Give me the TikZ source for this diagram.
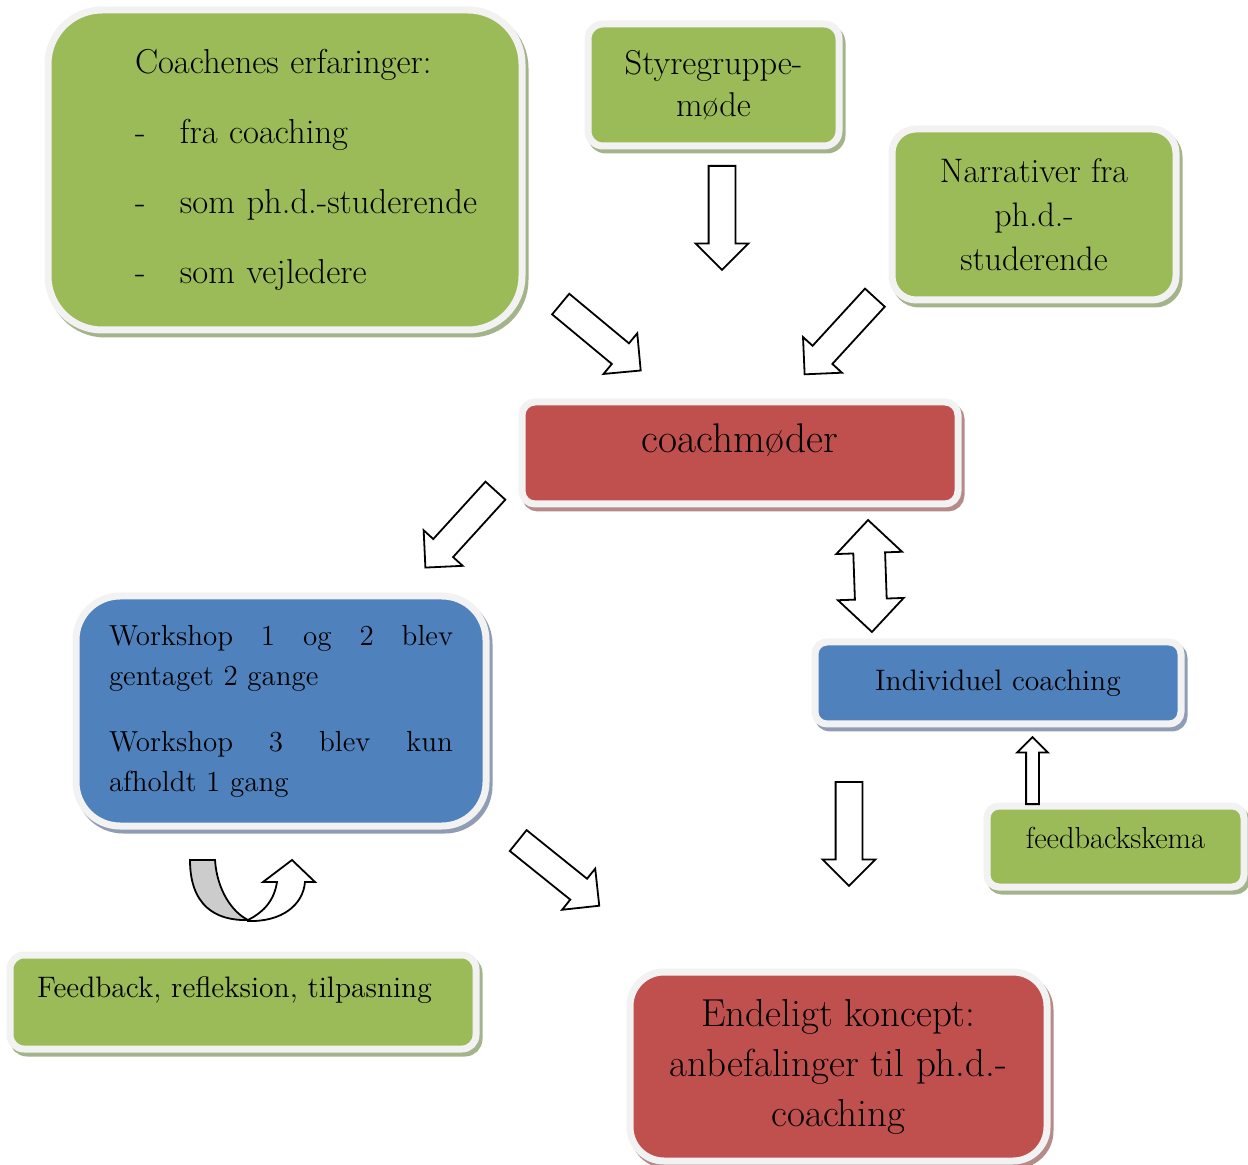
\documentclass[tikz,border=0pt]{standalone}
\usepackage{tikz}
\usetikzlibrary{shapes,arrows,positioning}

\definecolor{groen}{HTML}{9BBB59}
\definecolor{roed}{HTML}{C0504D}
\definecolor{blaa}{HTML}{4F81BD}
\definecolor{kant}{HTML}{F2F2F2}
\definecolor{groenskygge}{HTML}{A3B38A}
\definecolor{roedskygge}{HTML}{B58A89}
\definecolor{blaaskygge}{HTML}{8E9DB3}
\definecolor{graa}{HTML}{CCCCCC}

\tikzset{
  boks/.style={draw=kant, line width=3.5pt, inner sep=0pt, align=center},
  skygge/.style={preaction={draw=#1, fill=#1, line width=3.5pt, transform canvas={shift={(1.5pt,-2pt)}}}},
  groenboks/.style={boks, fill=groen, skygge=groenskygge},
  roedboks/.style={boks, fill=roed, skygge=roedskygge},
  blaaboks/.style={boks, fill=blaa, skygge=blaaskygge},
  pil/.style={single arrow, draw, fill=white, line width=0.9pt, inner xsep=0pt, inner ysep=6.25pt,
    single arrow head extend=6.5pt, minimum height=52pt, anchor=tail},
}

\begin{document}
\begin{tikzpicture}[x=0.5pt, y=-0.5pt]
  \useasboundingbox (0,0) rectangle (1248,1165);

  % kasser
  \node (erfaringer) [groenboks, rounded corners=27pt, minimum width=237pt, minimum height=160pt,
    text width=193pt, align=left, font=\fontsize{17.3}{35}\selectfont] at (285,170)
    {\hspace*{21.5pt}Coachenes erfaringer:\\
     \hspace*{21.5pt}\makebox[22.5pt][l]{-}fra coaching\\
     \hspace*{21.5pt}\makebox[22.5pt][l]{-}som ph.d.-studerende\\
     \hspace*{21.5pt}\makebox[22.5pt][l]{-}som vejledere};
  \node (styregruppe) [groenboks, rounded corners=7.5pt, minimum width=125.5pt, minimum height=61pt,
    font=\fontsize{17.2}{21}\selectfont] at (713.5,85) {Styregruppe-\\møde};
  \node (narrativer) [groenboks, rounded corners=12pt, minimum width=142pt, minimum height=85.5pt,
    font=\fontsize{17}{22}\selectfont] at (1034,214.5) {Narrativer fra\\ph.d.-\\studerende};
  \node (coachmoeder) [roedboks, rounded corners=6.5pt, minimum width=218pt, minimum height=51pt,
    text height=8pt, text depth=8pt, font=\fontsize{20.7}{23}\selectfont] at (740,453) {coachmøder};
  \node (workshop) [blaaboks, rounded corners=22pt, minimum width=205pt, minimum height=115pt,
    text width=172pt, align=left, font=\fontsize{14.5}{20}\selectfont] at (281,711)
    {\makebox[172pt][l]{Workshop\hfill 1\hfill og\hfill 2\hfill blev}\\gentaget 2 gange\\[13pt]
     \makebox[172pt][l]{Workshop\hfill 3\hfill blev\hfill kun}\\afholdt 1 gang};
  \node (individuel) [blaaboks, rounded corners=6pt, minimum width=183pt, minimum height=41pt,
    font=\fontsize{14.8}{17}\selectfont] at (998,683) {Individuel coaching};
  \node (skema) [groenboks, rounded corners=6pt, minimum width=128.5pt, minimum height=40.5pt,
    text height=8pt, text depth=6.5pt, font=\fontsize{15.2}{18}\selectfont] at (1115.5,846.5) {feedbackskema};
  \node (feedback) [groenboks, rounded corners=7pt, minimum width=233pt, minimum height=47pt,
    text width=206pt, align=left, text height=6pt, text depth=10.2pt,
    font=\fontsize{14.8}{17}\selectfont] at (243,1002) {Feedback, refleksion, tilpasning};
  \node (koncept) [roedboks, rounded corners=17pt, minimum width=208.5pt, minimum height=94.5pt,
    font=\fontsize{19.5}{25}\selectfont] at (838.5,1066.5) {Endeligt koncept:\\anbefalinger til ph.d.-\\coaching};

  % pile
  \node (pil1) [pil, rotate=-90] at (722,165) {};
  \node (pil2) [pil, rotate=-39.7] at (560,303.5) {};
  \node (pil3) [pil, rotate=-132.5] at (875.5,297) {};
  \node (pil4) [pil, rotate=-132.3] at (496,490) {};
  \node (pil5) [pil, rotate=-38.8] at (517.5,840) {};
  \node (pil6) [pil, rotate=-90] at (849,781) {};
  \node (pil7) [pil, rotate=90, inner ysep=2.75pt, single arrow head extend=4.5pt, minimum height=33.5pt] at (1032.5,805) {};
  \node (pil8) [double arrow, draw, fill=white, line width=0.9pt, inner xsep=0pt, inner ysep=7.5pt,
    double arrow head extend=8.5pt, minimum height=56pt, rotate=-88] at (870,576) {};

  % u-vending
  \draw [fill=graa, line width=0.9pt] (190,860) -- (215,860) .. controls (217,890) and (232,912) .. (248,920)
    .. controls (215,921) and (190,905) .. cycle;
  \draw [fill=white, line width=0.9pt] (248,921) .. controls (282,922) and (303,905) .. (305,882)
    -- (315,882) -- (292,860) -- (263,882) -- (277,882) .. controls (274,902) and (262,913) .. (248,920) -- cycle;
\end{tikzpicture}
\end{document}
